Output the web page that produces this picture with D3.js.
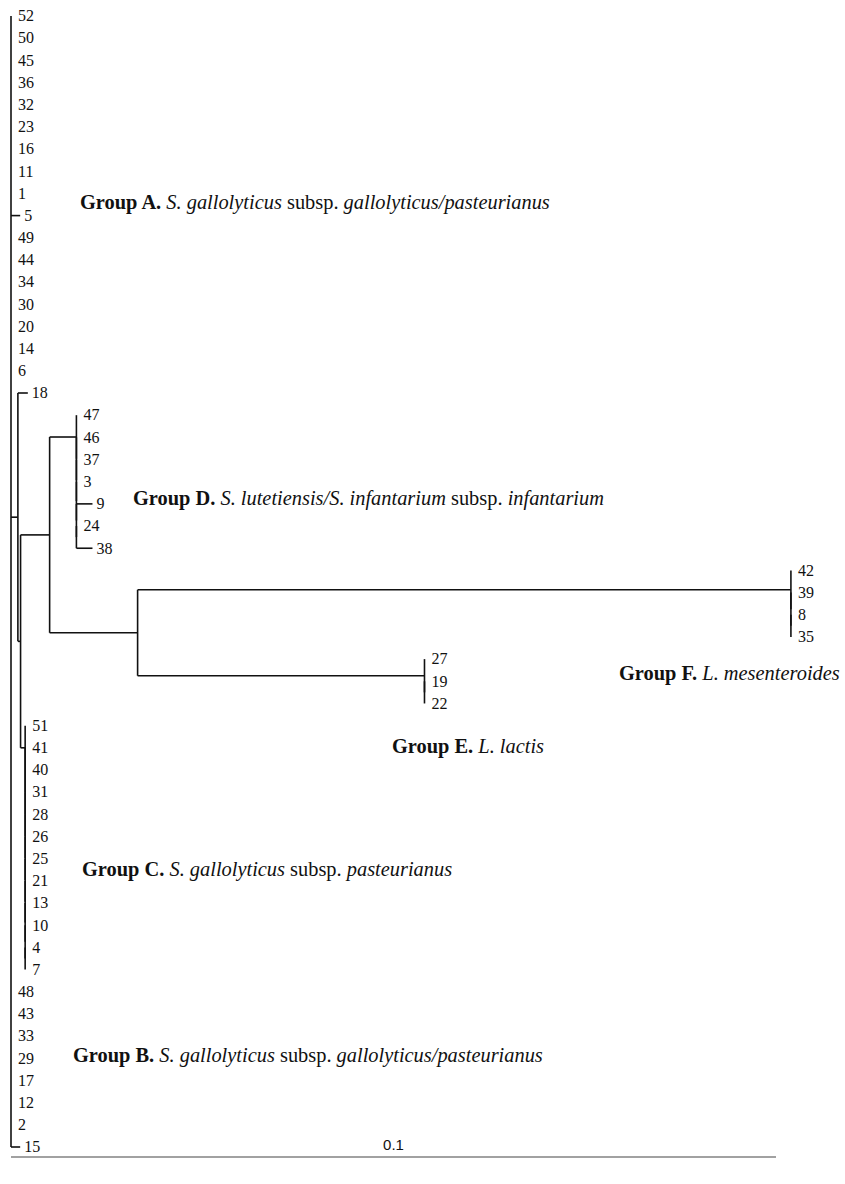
<!DOCTYPE html>
<html>
<head>
<meta charset="utf-8">
<script src="https://cdn.jsdelivr.net/npm/d3@7"></script>
<style>
	body { margin: 0; background: #fff; }
	svg { display: block; }
</style>
</head>
<body>
<svg></svg>
<script>
var groupA = ["52", "50", "45", "36", "32", "23", "16", "11", "1", "5", "49", "44", "34", "30", "20", "14", "6"]
var loneTip = ["18"]
var groupD = ["47", "46", "37", "3", "9", "24", "38"]
var groupF = ["42", "39", "8", "35"]
var groupE = ["27", "19", "22"]
var groupC = ["51", "41", "40", "31", "28", "26", "25", "21", "13", "10", "4", "7"]
var groupB = ["48", "43", "33", "29", "17", "12", "2", "15"]

// branch lengths (substitutions / site)
var tipLengths = [["5", 0.0012], ["18", 0.0013], ["9", 0.0021], ["38", 0.0021], ["15", 0.0012]]
var nodeLengths = [["N2", 0.0009], ["N3", 0.00035], ["DEF", 0.0038], ["D", 0.0035],
	["EF", 0.0115], ["F", 0.0854], ["E", 0.0375], ["C", 0.0006]]

var scaleBar = 0.1

var groupLabels = [
	{ id: "A", parts: [["b", "Group A."], ["i", " S. gallolyticus"], ["r", " subsp. "], ["i", "gallolyticus/pasteurianus"]] },
	{ id: "D", parts: [["b", "Group D."], ["i", " S. lutetiensis/S. infantarium"], ["r", " subsp. "], ["i", "infantarium"]] },
	{ id: "F", parts: [["b", "Group F."], ["i", " L. mesenteroides"]] },
	{ id: "E", parts: [["b", "Group E."], ["i", " L. lactis"]] },
	{ id: "C", parts: [["b", "Group C."], ["i", " S. gallolyticus"], ["r", " subsp. "], ["i", "pasteurianus"]] },
	{ id: "B", parts: [["b", "Group B."], ["i", " S. gallolyticus"], ["r", " subsp. "], ["i", "gallolyticus/pasteurianus"]] }
]
// where each group caption sits on the page
var labelPos = { A: [80, 202], D: [133, 498], F: [619, 673], E: [392, 746], C: [82, 869], B: [73, 1055] }

var width = 845
var height = 1184

var tipLen = new Map(tipLengths)
var nodeLen = new Map(nodeLengths)

function tip(name) {
	return { name: name, length: tipLen.get(name) || 0 }
}

// polytomies are drawn as ladders of zero-length nodes
function comb(names, id) {
	var node = tip(names[names.length - 1])
	for (var i = names.length - 2; i >= 0; i--) {
		node = { children: [tip(names[i]), node], length: 0 }
	}
	node.length = nodeLen.get(id) || 0
	node.id = id
	return node
}

function inner(id, children) {
	return { id: id, children: children, length: nodeLen.get(id) || 0 }
}

var treeData = {
	length: 0,
	children: groupA.map(tip)
		.concat([inner("N2", [tip(loneTip[0]),
			inner("N3", [
				inner("DEF", [comb(groupD, "D"), inner("EF", [comb(groupF, "F"), comb(groupE, "E")])]),
				comb(groupC, "C")
			])
		])])
		.concat(groupB.map(tip))
}

var leafOrder = groupA.concat(loneTip, groupD, groupF, groupE, groupC, groupB)

var x = d3.scaleLinear()
	.domain([0, scaleBar])
	.range([11, 776])
var y = d3.scalePoint()
	.domain(leafOrder)
	.range([16, 1147])

var root = d3.hierarchy(treeData)
root.eachBefore(function(node) {
	node.dist = node.parent ? node.parent.dist + node.data.length : 0
	node.px = x(node.dist)
})
root.eachAfter(function(node) {
	if (node.children) {
		node.py = (node.children[0].py + node.children[node.children.length - 1].py) / 2
	} else {
		node.py = y(node.data.name)
	}
})

var svg = d3.select("svg")
	.attr("width", width)
	.attr("height", height)

svg.append("rect")
	.attr("width", width)
	.attr("height", height)
	.attr("fill", "#fff")

var g = svg.append("g")
	.attr("stroke", "#111")
	.attr("stroke-width", 1.6)
	.attr("fill", "none")

// horizontal branches
g.selectAll("line.h")
	.data(root.descendants().filter(function(d) { return d.parent && d.px > d.parent.px }))
	.enter()
	.append("line")
	.attr("class", "h")
	.attr("x1", function(d) { return d.parent.px })
	.attr("x2", function(d) { return d.px })
	.attr("y1", function(d) { return d.py })
	.attr("y2", function(d) { return d.py })

// vertical connectors
g.selectAll("line.v")
	.data(root.descendants().filter(function(d) { return d.children }))
	.enter()
	.append("line")
	.attr("class", "v")
	.attr("x1", function(d) { return d.px })
	.attr("x2", function(d) { return d.px })
	.attr("y1", function(d) { return d.children[0].py })
	.attr("y2", function(d) { return d.children[d.children.length - 1].py })

svg.append("g")
	.attr("font-family", "'Liberation Serif', 'Times New Roman', serif")
	.attr("font-size", 16)
	.attr("fill", "#111")
	.selectAll("text")
	.data(root.leaves())
	.enter()
	.append("text")
	.attr("x", function(d) { return d.px + (d.data.length > 0 ? 4 : 7) })
	.attr("y", function(d) { return d.py })
	.attr("dy", "0.33em")
	.text(function(d) { return d.data.name })

var captions = svg.append("g")
	.attr("font-family", "'Liberation Serif', 'Times New Roman', serif")
	.attr("font-size", 20.4)
	.attr("fill", "#111")
	.selectAll("text")
	.data(groupLabels)
	.enter()
	.append("text")
	.attr("x", function(d) { return labelPos[d.id][0] })
	.attr("y", function(d) { return labelPos[d.id][1] })
	.attr("dy", "0.33em")
	.attr("xml:space", "preserve")
	.style("white-space", "pre")

captions.selectAll("tspan")
	.data(function(d) { return d.parts })
	.enter()
	.append("tspan")
	.attr("font-weight", function(p) { return p[0] === "b" ? "bold" : null })
	.attr("font-style", function(p) { return p[0] === "i" ? "italic" : null })
	.text(function(p) { return p[1] })

// scale bar
var bar = svg.append("g")
bar.append("line")
	.attr("x1", x(0))
	.attr("x2", x(scaleBar))
	.attr("y1", 1157)
	.attr("y2", 1157)
	.attr("stroke", "#444")
	.attr("stroke-width", 1.2)
bar.append("text")
	.attr("x", x(scaleBar / 2))
	.attr("y", 1150)
	.attr("text-anchor", "middle")
	.attr("font-family", "'Liberation Sans', Arial, sans-serif")
	.attr("font-size", 15)
	.attr("fill", "#111")
	.text(scaleBar)
</script>
</body>
</html>
